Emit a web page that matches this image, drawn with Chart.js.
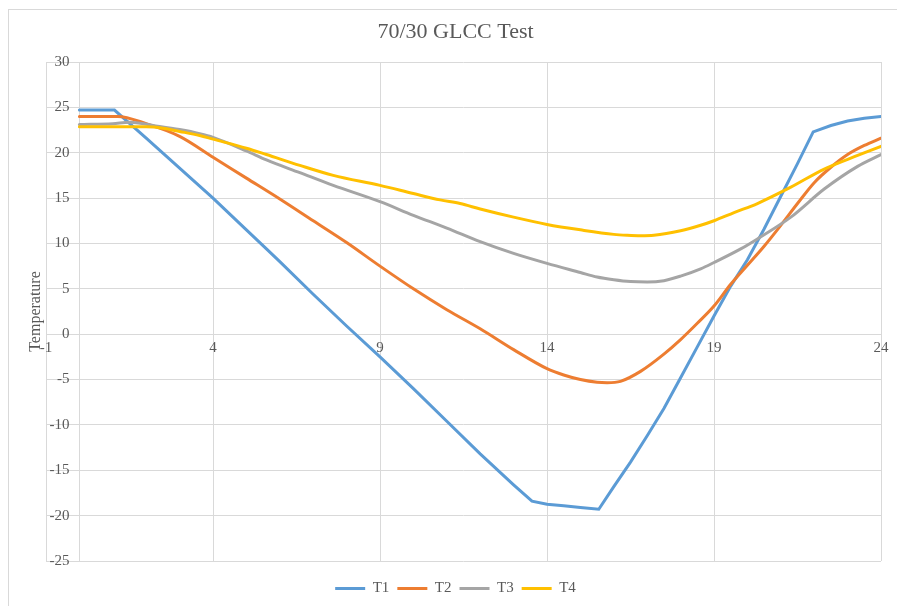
<!DOCTYPE html>
<html>
<head>
<meta charset="utf-8">
<script src="https://cdn.jsdelivr.net/npm/chart.js@4.4.1/dist/chart.umd.min.js"></script>
<style>
  html, body { margin: 0; padding: 0; background: #fff; overflow: hidden; }
  #frame { position: absolute; left: 8px; top: 9px; width: 1000px; height: 700px; border: 1px solid #d9d9d9; }
  #wrap { position: absolute; left: 0; top: 0; width: 897px; height: 606px; }
</style>
</head>
<body>
<div id="frame"></div>
<div id="wrap"><canvas id="chart"></canvas></div>
<script>
const chartTitle = '70/30 GLCC Test';
const yTitle = 'Temperature';
const seriesNames = ['T1', 'T2', 'T3', 'T4'];
const seriesColors = ['#5b9bd5', '#ed7d31', '#a5a5a5', '#ffc000'];
const xTicks = [-1, 4, 9, 14, 19, 24];
const xAxisCross = 0;      // value axis crosses the category axis here

// (hours, deg)
const t1Hours = [0, 1.05, 2, 3, 4, 5, 5.6, 6, 7, 8, 9, 10, 11, 12, 13, 13.55, 14, 14.5, 15, 15.55,
  16, 16.5, 17, 17.5, 18, 18.5, 19, 19.5, 20, 20.5, 21, 21.5, 21.97, 22.5, 23, 23.5, 24];
const t1Temps = [24.7, 24.7, 21.6, 18.3, 15.0, 11.5, 9.4, 8.0, 4.4, 0.9, -2.5, -6.0, -9.6, -13.2, -16.6, -18.4, -18.75, -18.9, -19.1, -19.3,
  -16.8, -14.1, -11.2, -8.2, -4.8, -1.4, 2.0, 5.3, 8.2, 11.6, 15.2, 18.8, 22.3, 23.0, 23.5, 23.8, 24.0];

const t2Hours = [0, 1.15, 2, 3, 4, 5, 6, 7, 8, 9, 10, 11, 12, 13, 14, 14.5, 15, 15.5, 15.8, 16.2,
  16.8, 17.5, 18, 18.5, 19, 19.5, 20, 20.5, 21, 21.5, 22, 22.5, 23, 23.5, 24];
const t2Temps = [24.0, 24.0, 23.2, 21.8, 19.5, 17.2, 14.9, 12.5, 10.1, 7.5, 5.0, 2.7, 0.6, -1.7, -3.8, -4.5, -5.0, -5.3, -5.35, -5.2,
  -4.1, -2.2, -0.6, 1.2, 3.1, 5.5, 7.6, 9.7, 12.0, 14.4, 16.7, 18.4, 19.8, 20.8, 21.6];

const t3Hours = [0, 1, 1.5, 2.4, 3, 3.6, 4, 5, 5.6, 6.6, 7.6, 9, 10, 11, 12, 13, 14, 15, 15.5, 16,
  16.5, 17, 17.5, 18, 18.6, 19, 19.8, 20.3, 21.3, 22.3, 23.3, 24];
const t3Temps = [23.1, 23.2, 23.35, 22.9, 22.55, 22.1, 21.7, 20.2, 19.2, 17.8, 16.4, 14.6, 13.1, 11.7, 10.2, 8.9, 7.8, 6.8, 6.3, 6.0,
  5.8, 5.75, 5.9, 6.4, 7.2, 7.9, 9.4, 10.5, 12.9, 16.0, 18.5, 19.8];

const t4Hours = [0, 2, 2.5, 3, 3.6, 4, 5, 5.6, 6.6, 7.6, 9, 10, 10.8, 11.4, 12, 13, 14, 15, 16, 16.4,
  16.8, 17.2, 18, 18.6, 19, 19.6, 20.3, 21.3, 22.3, 23.3, 24];
const t4Temps = [22.85, 22.85, 22.7, 22.35, 21.9, 21.5, 20.5, 19.8, 18.6, 17.5, 16.4, 15.5, 14.8, 14.4, 13.8, 12.9, 12.1, 11.5, 11.0, 10.9,
  10.85, 10.9, 11.4, 12.0, 12.5, 13.4, 14.4, 16.2, 18.2, 19.7, 20.7];

const textColor = '#595959';
const gridColor = '#d9d9d9';
const serif = '"Liberation Serif", "Times New Roman", serif';

Chart.defaults.font.family = serif;
Chart.defaults.color = textColor;

const allHours = [t1Hours, t2Hours, t3Hours, t4Hours];
const allTemps = [t1Temps, t2Temps, t3Temps, t4Temps];

const datasets = seriesNames.map((name, i) => ({
    label: name,
    data: allHours[i].map((h, j) => ({ x: h, y: allTemps[i][j] })),
    borderColor: seriesColors[i],
    backgroundColor: seriesColors[i],
    borderWidth: 3,
    pointRadius: 0,
    borderCapStyle: 'round',
    cubicInterpolationMode: i === 0 ? 'default' : 'monotone',
    tension: 0,
    xAxisID: 'x',
    yAxisID: 'y',
    order: seriesNames.length - i   // later series drawn on top, like Excel
}));

// vertical axis title, Excel puts it left of the value labels
const axisTitle = {
    id: 'axisTitle',
    afterDraw(chart) {
        const { ctx, chartArea } = chart;
        ctx.save();
        ctx.translate(36, (chartArea.top + chartArea.bottom) / 2);
        ctx.rotate(-Math.PI / 2);
        ctx.font = '16px ' + serif;
        ctx.fillStyle = textColor;
        ctx.textAlign = 'center';
        ctx.textBaseline = 'middle';
        ctx.fillText(yTitle, 0, 0);
        ctx.restore();
    }
};

new Chart(document.getElementById('chart'), {
    type: 'line',
    data: { datasets },
    plugins: [axisTitle],
    options: {
        responsive: true,
        maintainAspectRatio: false,
        animation: false,
        layout: { padding: { left: 30, right: 16, top: 0, bottom: 0 } },
        plugins: {
            title: {
                display: true,
                text: chartTitle,
                color: textColor,
                font: { size: 22, weight: 'normal', lineHeight: 1.2 },
                padding: { top: 19, bottom: 16.6 }
            },
            legend: {
                position: 'bottom',
                title: { display: true, text: '', font: { size: 10, lineHeight: 1.2 }, padding: 0 },
                labels: {
                    usePointStyle: true,
                    pointStyle: 'line',
                    pointStyleWidth: 30,
                    padding: 8,
                    color: textColor,
                    font: { size: 15 },
                    sort: (a, b) => a.datasetIndex - b.datasetIndex
                }
            },
            tooltip: { enabled: false }
        },
        scales: {
            x: {
                type: 'linear',
                position: { y: 0 },
                min: -1,
                max: 24,
                afterBuildTicks: s => {
                    s.ticks = xTicks.concat([xAxisCross]).sort((a, b) => a - b).map(v => ({ value: v }));
                },
                grid: { color: gridColor, lineWidth: 1, drawTicks: false },
                border: { display: true, color: gridColor, width: 1 },
                ticks: {
                    padding: 5, font: { size: 15 }, color: textColor, maxRotation: 0, autoSkip: false,
                    callback: v => (xTicks.includes(v) ? v : '')
                }
            },
            y: {
                type: 'linear',
                position: { x: -0.3 },   // labels end a little left of the x = 0 line
                min: -25,
                max: 30,
                ticks: { stepSize: 5, font: { size: 15 }, color: textColor },
                grid: { color: gridColor, lineWidth: 1, drawTicks: false },
                border: { display: false }
            },
            // empty strip so the plot starts at 46px while title and legend stay centred like Excel
            pad: {
                type: 'linear',
                position: 'left',
                display: true,
                grid: { display: false },
                border: { display: false },
                ticks: { display: false },
                afterFit: s => { s.width = 16; }
            }
        }
    }
});
</script>
</body>
</html>
